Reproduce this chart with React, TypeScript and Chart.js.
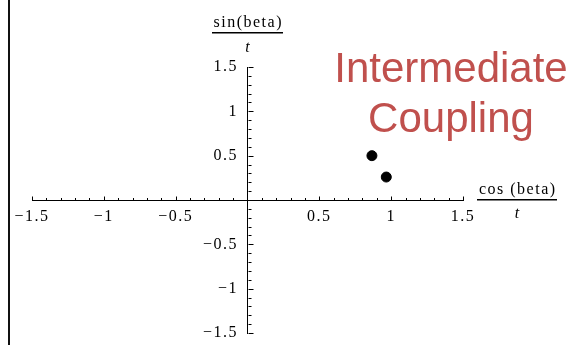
import { useEffect, useRef } from "react";
import { Chart, registerables } from "chart.js";

Chart.register(...registerables);

// ---- data ----
const xRange = [-1.5, 1.5];
const yRange = [-1.5, 1.5];
const cosValues = [0.866, 0.966];
const sinValues = [0.5, 0.259];
const titleLines = ["Intermediate", "Coupling"];
const xAxisNumerator = "cos (beta)";
const yAxisNumerator = "sin(beta)";
const axisDenominator = "t";

const SERIF = "'Liberation Serif', 'Times New Roman', serif";
const SANS = "'Liberation Sans', Arial, sans-serif";

const fmt = (v: number) => {
  const r = Math.round(v * 10) / 10;
  if (r === 0) return "";
  return (r < 0 ? "\u2212" : "") + String(Math.abs(r));
};

const decorPlugin = {
  id: "decor",
  beforeDraw(chart: any) {
    chart.ctx.letterSpacing = "1.5px";
  },
  afterDraw(chart: any) {
    const ctx: CanvasRenderingContext2D = chart.ctx;
    const xs = chart.scales.x;
    const ys = chart.scales.y;
    ctx.save();
    (ctx as any).letterSpacing = "0px";

    // left frame line
    ctx.fillStyle = "#111";
    ctx.fillRect(8, 0, 2, 345);

    // tick marks (minor every 0.1, major every 0.5)
    const x0 = Math.round(xs.getPixelForValue(0)) + 0.5;
    const y0 = Math.round(ys.getPixelForValue(0)) + 0.5;
    ctx.strokeStyle = "#000";
    ctx.lineWidth = 1;
    ctx.beginPath();
    for (let i = -15; i <= 15; i++) {
      if (i === 0) continue;
      const v = i / 10;
      const major = i % 5 === 0;
      const px = Math.round(xs.getPixelForValue(v)) + 0.5;
      ctx.moveTo(px, y0);
      ctx.lineTo(px, y0 - (major ? 4 : 2.5));
      const py = Math.round(ys.getPixelForValue(v)) + 0.5;
      ctx.moveTo(x0, py);
      ctx.lineTo(x0 + (major ? 5 : 3), py);
    }
    ctx.stroke();

    // axis fraction labels
    const drawFraction = (num: string, cx: number, numBase: number, lineY: number, denBase: number) => {
      (ctx as any).letterSpacing = "1.5px";
      ctx.font = `16px ${SERIF}`;
      ctx.fillStyle = "#000";
      ctx.textAlign = "center";
      ctx.textBaseline = "alphabetic";
      const w = ctx.measureText(num).width;
      ctx.fillText(num, cx + 0.75, numBase);
      ctx.fillRect(Math.round(cx - w / 2) - 1, lineY, Math.round(w) + 2, 1.5);
      (ctx as any).letterSpacing = "0px";
      ctx.font = `italic 16px ${SERIF}`;
      ctx.fillText(axisDenominator, cx, denBase);
    };
    drawFraction(yAxisNumerator, x0 - 1, 27, 32, 52);
    drawFraction(xAxisNumerator, 517, 194, 199, 218);

    // title
    ctx.font = `42px ${SANS}`;
    ctx.fillStyle = "#C0504D";
    ctx.textAlign = "center";
    ctx.textBaseline = "alphabetic";
    ctx.fillText(titleLines[0], 451, 82);
    ctx.fillText(titleLines[1], 451, 132);
    ctx.restore();
  },
};

export default function App() {
  const ref = useRef<HTMLCanvasElement | null>(null);
  useEffect(() => {
    if (!ref.current) return;
    const chart = new Chart(ref.current, {
      type: "scatter",
      data: {
        datasets: [
          {
            data: cosValues.map((c, i) => ({ x: c, y: sinValues[i] })),
            backgroundColor: "#000",
            borderColor: "#000",
            pointRadius: 5,
            pointHoverRadius: 5,
          },
        ],
      },
      options: {
        animation: false,
        responsive: false,
        devicePixelRatio: 1,
        layout: { padding: { left: 32, right: 107, top: 67, bottom: 14 } },
        plugins: { legend: { display: false }, tooltip: { enabled: false }, title: { display: false } },
        scales: {
          x: {
            type: "linear",
            min: xRange[0],
            max: xRange[1],
            position: { y: 0 } as any,
            grid: { display: true, drawOnChartArea: false, drawTicks: false },
            border: { display: true, color: "#000", width: 1 },
            ticks: {
              stepSize: 0.5,
              autoSkip: false,
              maxRotation: 0,
              padding: 7,
              color: "#000",
              font: { family: SERIF, size: 16 },
              callback: (v: any) => fmt(Number(v)),
            },
          },
          y: {
            type: "linear",
            min: yRange[0],
            max: yRange[1],
            position: { x: 0 } as any,
            grid: { display: true, drawOnChartArea: false, drawTicks: false },
            border: { display: true, color: "#000", width: 1 },
            ticks: {
              stepSize: 0.5,
              autoSkip: false,
              color: "#000",
              font: { family: SERIF, size: 16 },
              callback: (v: any) => {
                const s = fmt(Number(v));
                return s ? s + "\u2002" : "";
              },
            },
          },
        },
      },
      plugins: [decorPlugin],
    });
    return () => chart.destroy();
  }, []);
  return (
    <div style={{ position: "fixed", left: 0, top: 0, width: 570, height: 347, background: "#fff" }}>
      <canvas ref={ref} width={570} height={347} style={{ display: "block", width: 570, height: 347 }} />
    </div>
  );
}
